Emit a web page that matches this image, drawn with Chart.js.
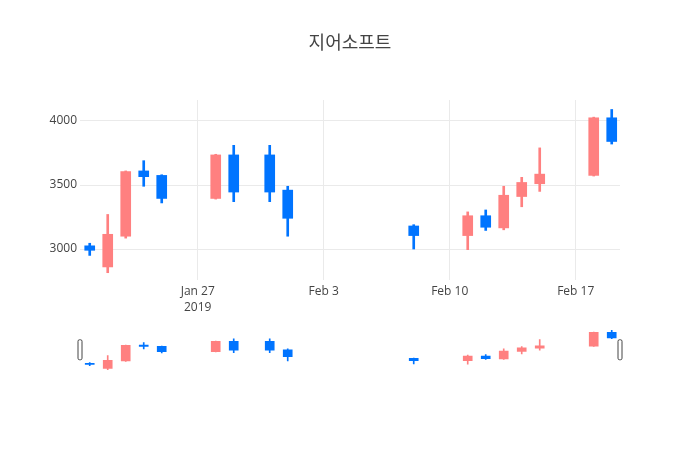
<!DOCTYPE html>
<html>
<head>
<meta charset="utf-8">
<script src="https://cdn.jsdelivr.net/npm/chart.js@4"></script>
<style>
  html, body { margin: 0; padding: 0; background: #fff; }
  .wrap { position: relative; width: 700px; height: 450px; }
  .wrap canvas { position: absolute; left: 0; top: 0; }
</style>
</head>
<body>
<div class="wrap">
  <canvas id="mainChart" width="700" height="450"></canvas>
  <canvas id="sliderChart" width="700" height="450"></canvas>
</div>
<script>
// Daily prices
const chartTitle = '지어소프트';
const dates = ['2019-01-21', '2019-01-22', '2019-01-23', '2019-01-24', '2019-01-25',
  '2019-01-28', '2019-01-29', '2019-01-31', '2019-02-01', '2019-02-08',
  '2019-02-11', '2019-02-12', '2019-02-13', '2019-02-14', '2019-02-15',
  '2019-02-18', '2019-02-19'];
const openVals  = [3025, 2860, 3100, 3610, 3575, 3395, 3735, 3735, 3460, 3180, 3105, 3260, 3165, 3410, 3510, 3575, 4025];
const highVals  = [3045, 3270, 3610, 3690, 3580, 3740, 3810, 3810, 3490, 3190, 3290, 3305, 3490, 3560, 3790, 4030, 4090];
const lowVals   = [2950, 2815, 3085, 3490, 3360, 3390, 3370, 3370, 3100, 3000, 2995, 3145, 3150, 3330, 3450, 3570, 3820];
const closeVals = [2990, 3115, 3605, 3565, 3395, 3735, 3445, 3445, 3240, 3105, 3260, 3170, 3420, 3520, 3585, 4025, 3840];

// Axis ticks
const xTickDates = ['2019-01-27', '2019-02-03', '2019-02-10', '2019-02-17'];
const xTickLabels = [['Jan 27', '2019'], 'Feb 3', 'Feb 10', 'Feb 17'];
const yTicks = [3000, 3500, 4000];
const yMin = 2758;
const yMax = 4164;

const upColor = 'rgb(255,128,128)';
const downColor = 'rgb(0,116,255)';
const fontFamily = "'Open Sans', 'Noto Sans CJK KR', sans-serif";

const dayOf = (d) => Date.parse(d + 'T00:00:00Z') / 86400000;
const xs = dates.map(dayOf);
const xMin = xs[0] - 0.54;
const xMax = xs[xs.length - 1] + 0.46;
const colors = openVals.map((o, i) => closeVals[i] >= o ? upColor : downColor);

function candleSets(wickWidth, bodyWidth) {
  return [{
    label: 'body',
    data: xs.map((x, i) => ({x: x, y: [openVals[i], closeVals[i]]})),
    backgroundColor: colors,
    barThickness: bodyWidth,
    grouped: false,
    borderWidth: 0
  }, {
    label: 'wick',
    data: xs.map((x, i) => ({x: x, y: [lowVals[i], highVals[i]]})),
    backgroundColor: colors,
    barThickness: wickWidth,
    grouped: false,
    borderWidth: 0
  }];
}

// Main candlestick chart
const mainChart = new Chart(document.getElementById('mainChart'), {
  type: 'bar',
  data: { datasets: candleSets(2, 10) },
  options: {
    responsive: false,
    animation: false,
    layout: { padding: 0 },
    plugins: {
      legend: { display: false },
      tooltip: { enabled: false },
      title: {
        display: true,
        text: chartTitle,
        color: '#444',
        font: { family: fontFamily, size: 18, weight: 'normal' },
        padding: { top: 33.5, bottom: 44.9 }
      }
    },
    scales: {
      x: {
        type: 'linear',
        min: xMin,
        max: xMax,
        offset: false,
        border: { display: false },
        grid: { color: '#eaeaea', drawTicks: false, offset: false },
        ticks: {
          color: '#444',
          padding: 3,
          maxRotation: 0,
          font: { family: fontFamily, size: 12, lineHeight: 1.35 },
          callback: (v, i) => xTickLabels[i]
        },
        afterBuildTicks: (s) => { s.ticks = xTickDates.map(d => ({ value: dayOf(d) })); },
        afterFit: (s) => { s.height = 170; }
      },
      y: {
        min: yMin,
        max: yMax,
        border: { display: false },
        grid: { color: '#eaeaea', drawTicks: false },
        ticks: {
          color: '#444',
          padding: 3,
          font: { family: fontFamily, size: 12 },
          callback: (v) => String(v)
        },
        afterBuildTicks: (s) => { s.ticks = yTicks.map(v => ({ value: v })); },
        afterFit: (s) => { s.width = 80; }
      },
      // empty right margin so the plot ends at the same place as the slider
      yRight: {
        position: 'right',
        min: yMin,
        max: yMax,
        border: { display: false },
        grid: { display: false },
        ticks: { display: false },
        afterFit: (s) => { s.width = 80; }
      }
    }
  }
});

// Range slider handles
const sliderHandles = {
  id: 'sliderHandles',
  afterDraw(chart) {
    const { ctx, chartArea } = chart;
    const mid = (chartArea.top + chartArea.bottom) / 2;
    ctx.save();
    ctx.fillStyle = '#fff';
    ctx.strokeStyle = '#444';
    ctx.lineWidth = 1;
    [chartArea.left, chartArea.right].forEach(x => {
      ctx.beginPath();
      ctx.roundRect(x - 2, mid - 10, 4, 20, 1.5);
      ctx.fill();
      ctx.stroke();
    });
    ctx.restore();
  }
};

const sliderChart = new Chart(document.getElementById('sliderChart'), {
  type: 'bar',
  data: { datasets: candleSets(1, 9) },
  options: {
    responsive: false,
    animation: false,
    layout: { padding: { left: 80, right: 80, top: 328, bottom: 78.5 } },
    plugins: { legend: { display: false }, tooltip: { enabled: false } },
    scales: {
      x: { type: 'linear', min: xMin, max: xMax, offset: false, display: false },
      y: { min: yMin, max: yMax, display: false }
    }
  },
  plugins: [sliderHandles]
});
</script>
</body>
</html>
